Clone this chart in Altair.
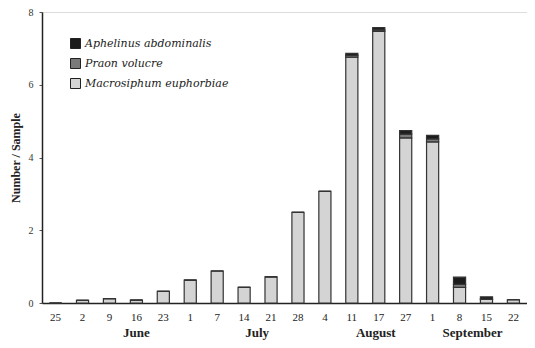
import altair as alt
import pandas as pd

dates = ["May 25", "Jun 2", "Jun 9", "Jun 16", "Jun 23", "Jul 1", "Jul 7", "Jul 14",
         "Jul 21", "Jul 28", "Aug 4", "Aug 11", "Aug 17", "Aug 27", "Sep 1", "Sep 8",
         "Sep 15", "Sep 22"]
macrosiphum = [0.0, 0.07, 0.12, 0.08, 0.32, 0.63, 0.88, 0.43, 0.72, 2.49, 3.07, 6.76,
               7.47, 4.54, 4.43, 0.43, 0.10, 0.09]
praon = [0, 0, 0, 0, 0, 0, 0, 0, 0, 0, 0, 0.05, 0.04, 0.10, 0.08, 0.08, 0.01, 0]
aphelinus = [0, 0, 0, 0, 0, 0, 0, 0, 0, 0, 0, 0.05, 0.06, 0.10, 0.10, 0.20, 0.06, 0]

species = ["Aphelinus abdominalis", "Praon volucre", "Macrosiphum euphorbiae"]
colors = ["#1c1c1c", "#7a7a7a", "#d4d4d4"]

months = ["June", "July", "August", "September"]
month_anchor = ["Jun 16", "Jul 14", "Aug 17", "Sep 8"]

rows = []
for i, d in enumerate(dates):
    rows.append({"date": d, "species": species[2], "value": macrosiphum[i], "ord": 0})
    rows.append({"date": d, "species": species[1], "value": praon[i], "ord": 1})
    rows.append({"date": d, "species": species[0], "value": aphelinus[i], "ord": 2})
df = pd.DataFrame(rows)

FONT = "Liberation Serif"

xscale = alt.Scale(domain=dates, paddingInner=0.55, paddingOuter=0.28)

bars = alt.Chart(df).mark_bar(stroke="#333333", strokeWidth=1.2).encode(
    x=alt.X("date:N", sort=dates, scale=xscale,
            axis=alt.Axis(title=None, labelAngle=0, ticks=False, labelPadding=8,
                          labelFont=FONT, labelFontSize=11, labelColor="#222",
                          domainColor="#222", domainWidth=1.5,
                          labelExpr="split(datum.label, ' ')[1]")),
    y=alt.Y("value:Q", stack="zero",
            scale=alt.Scale(domain=[0, 8], nice=False),
            axis=alt.Axis(values=[0, 2, 4, 6, 8], title="Number / Sample", grid=False,
                          tickSize=3, tickColor="#555", labelPadding=6,
                          labelFont=FONT, labelFontSize=10, labelColor="#333",
                          titleFont=FONT, titleFontSize=12, titleFontWeight="bold",
                          titleColor="#222", titlePadding=6,
                          domainColor="#222", domainWidth=1.5)),
    color=alt.Color("species:N", scale=alt.Scale(domain=species, range=colors),
                    legend=alt.Legend(title=None, orient="none", legendX=28, legendY=26,
                                      symbolType="square", symbolSize=100,
                                      symbolStrokeColor="#222", symbolStrokeWidth=1,
                                      labelFont="DejaVu Serif", labelFontStyle="italic",
                                      labelFontSize=11, labelColor="#222",
                                      rowPadding=5, padding=0)),
    order=alt.Order("ord:Q", sort="ascending"),
)

mdf = pd.DataFrame({"month": months, "anchor": month_anchor})
layers = [bars]
shifts = {"June": 0, "July": 13, "August": -3, "September": 13}
for m, a in zip(months, month_anchor):
    layers.append(
        alt.Chart(mdf[mdf["month"] == m]).mark_text(
            font=FONT, fontSize=13, fontWeight="bold", color="#222",
            baseline="middle", dx=shifts[m]
        ).encode(
            x=alt.X("anchor:N", sort=dates, scale=xscale),
            y=alt.value(321),
            text="month:N",
        )
    )

chart = alt.layer(*layers).properties(
    width=485, height=291,
    autosize=alt.AutoSizeParams(type="none"),
    padding={"left": 34, "top": 4, "right": 0, "bottom": 37},
).configure_view(
    stroke="#666666", strokeWidth=1.5
).configure(background="white")

chart.save("out.html", embed_options={"renderer": "svg", "actions": False})
